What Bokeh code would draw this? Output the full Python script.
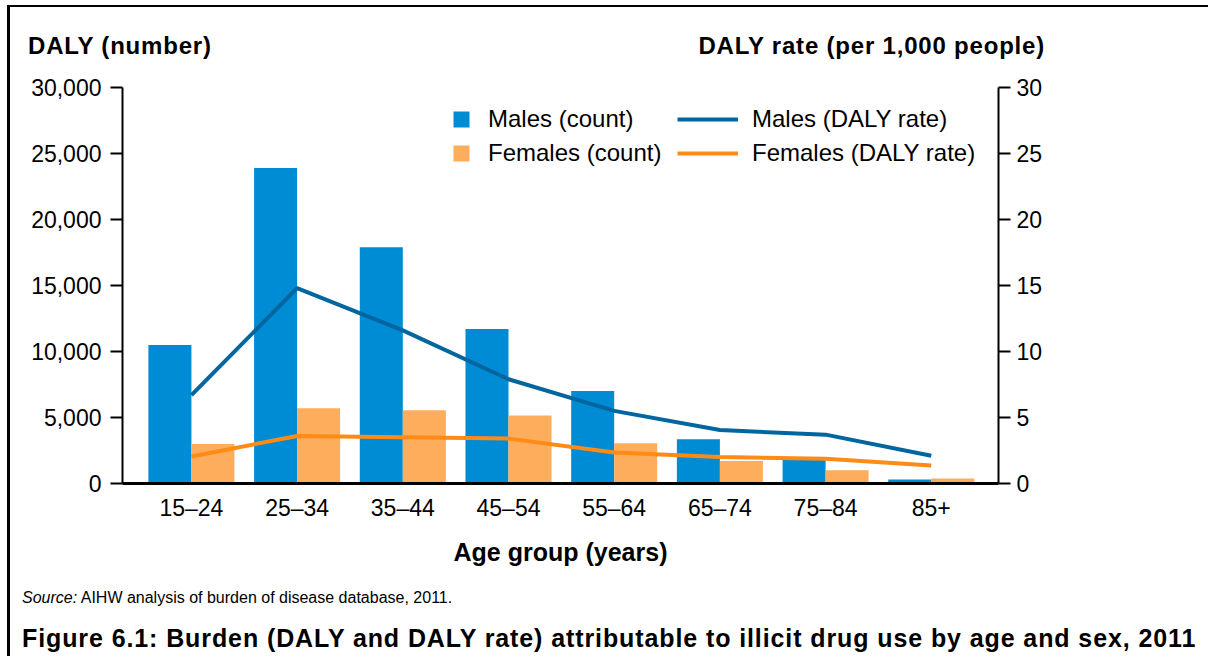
from bokeh.plotting import figure
from bokeh.layouts import column
from bokeh.models import (Range1d, LinearAxis, SingleIntervalTicker, FixedTicker,
                          NumeralTickFormatter, Legend, LegendItem, ColumnDataSource, Div)
from bokeh.transform import dodge
from bokeh.embed import file_html
from bokeh.resources import INLINE

# ---------------- data ----------------
categories = ["15–24", "25–34", "35–44", "45–54", "55–64", "65–74", "75–84", "85+"]
males_count = [10500, 23900, 17900, 11700, 7000, 3350, 1850, 300]
females_count = [3000, 5700, 5550, 5150, 3050, 1700, 1000, 380]
males_rate = [6.7, 14.8, 11.6, 7.9, 5.5, 4.05, 3.7, 2.1]
females_rate = [2.05, 3.6, 3.5, 3.4, 2.35, 2.0, 1.87, 1.37]

left_title = "DALY (number)"
right_title = "DALY rate (per 1,000 people)"
x_title = "Age group (years)"
source_lead = "Source:"
source_text = "AIHW analysis of burden of disease database, 2011."
caption = "Figure 6.1: Burden (DALY and DALY rate) attributable to illicit drug use by age and sex, 2011"

xs = list(range(len(categories)))
src = ColumnDataSource(dict(x=xs, cat=categories, mc=males_count, fc=females_count,
                            mr=males_rate, fr=females_rate))

FONT = "Liberation Sans"
CSS_FONT = "'Liberation Sans', Arial, sans-serif"
C_MBAR = "#008bd5"
C_FBAR = "#fdad5b"
C_MLINE = "#00669f"
C_FLINE = "#ff8b17"

FW, FH = 1198, 505
p = figure(width=FW, height=FH, output_backend="svg", toolbar_location=None,
           x_range=Range1d(-0.652, 7.636), y_range=Range1d(0, 30000),
           min_border_left=112, min_border_right=210, min_border_top=20,
           min_border_bottom=89, title=None, margin=0)
p.outline_line_color = None
p.xgrid.visible = False
p.ygrid.visible = False
p.background_fill_color = "white"
p.border_fill_color = "white"

p.extra_y_ranges = {"rate": Range1d(0, 30)}

bw = 0.407
mb = p.vbar(x=dodge("x", -bw / 2, range=p.x_range), top="mc", width=bw, source=src,
            fill_color=C_MBAR, line_color=None)
fb = p.vbar(x=dodge("x", bw / 2, range=p.x_range), top="fc", width=bw, source=src,
            fill_color=C_FBAR, line_color=None)
ml = p.line(x="x", y="mr", source=src, y_range_name="rate", line_color=C_MLINE, line_width=4)
fl = p.line(x="x", y="fr", source=src, y_range_name="rate", line_color=C_FLINE, line_width=4)

def style_axis(ax, standoff):
    ax.axis_line_width = 2
    ax.axis_line_color = "black"
    ax.major_tick_line_width = 2
    ax.major_tick_out = 12
    ax.major_tick_in = 0
    ax.minor_tick_line_color = None
    ax.major_label_text_font = FONT
    ax.major_label_text_font_size = "23px"
    ax.major_label_text_color = "black"
    ax.major_label_standoff = standoff

ya = p.yaxis[0]
ya.ticker = SingleIntervalTicker(interval=5000, num_minor_ticks=0)
ya.formatter = NumeralTickFormatter(format="0,0")
style_axis(ya, 9)

ra = LinearAxis(y_range_name="rate", ticker=SingleIntervalTicker(interval=5, num_minor_ticks=0))
style_axis(ra, 6)
p.add_layout(ra, "right")

xa = p.xaxis[0]
xa.ticker = FixedTicker(ticks=xs)
xa.major_label_overrides = {i: c for i, c in zip(xs, categories)}
xa.axis_line_width = 3
xa.axis_line_color = "black"
xa.major_tick_line_color = None
xa.major_tick_out = 0
xa.major_tick_in = 0
xa.minor_tick_line_color = None
xa.major_label_text_font = FONT
xa.major_label_text_font_size = "23px"
xa.major_label_text_color = "black"
xa.major_label_standoff = 11
xa.axis_label = x_title
xa.axis_label_text_font = FONT
xa.axis_label_text_font_size = "25px"
xa.axis_label_text_font_style = "bold"
xa.axis_label_text_color = "black"
xa.axis_label_standoff = 14

# legends
common = dict(border_line_color=None, background_fill_alpha=0, padding=0, margin=0,
              label_text_font=FONT, label_text_font_size="24px", label_text_color="black",
              glyph_height=20, label_height=20, spacing=6)
leg1 = Legend(items=[LegendItem(label="Males (count)", renderers=[mb]),
                     LegendItem(label="Females (count)", renderers=[fb])],
              location=(329, 316), glyph_width=20, label_standoff=17, **common)
leg2 = Legend(items=[LegendItem(label="Males (DALY rate)", renderers=[ml]),
                     LegendItem(label="Females (DALY rate)", renderers=[fl])],
              location=(555, 316), glyph_width=61, label_standoff=14, **common)
p.add_layout(leg1)
p.add_layout(leg2)

# text blocks above and below the chart
top_html = (
    f'<div style="position:relative;width:{FW}px;height:60px;font-family:{CSS_FONT};'
    'font-weight:bold;font-size:24px;line-height:24px;letter-spacing:0.8px;color:#000;">'
    f'<span style="position:absolute;left:18px;top:27px;white-space:nowrap;">{left_title}</span>'
    f'<span style="position:absolute;right:{FW - 1035}px;top:27px;white-space:nowrap;">{right_title}</span>'
    '</div>'
)
top = Div(text=top_html, width=FW, height=60, margin=0)

bottom_html = (
    f'<div style="position:relative;width:{FW}px;height:84px;font-family:{CSS_FONT};color:#000;">'
    '<span style="position:absolute;left:12px;top:18px;font-size:16px;line-height:16px;white-space:nowrap;">'
    f'<i>{source_lead}</i> {source_text}</span>'
    '<span style="position:absolute;left:12px;top:54px;font-size:25px;line-height:25px;'
    f'letter-spacing:0.9px;font-weight:bold;white-space:nowrap;">{caption}</span>'
    '</div>'
)
bottom = Div(text=bottom_html, width=FW, height=84, margin=0)

col = column(top, p, bottom, spacing=0, margin=(5, 0, 0, 7))
col.styles = {"border-top": "2px solid black", "border-left": "3px solid black"}

open("out.html", "w").write(file_html(col, INLINE))
